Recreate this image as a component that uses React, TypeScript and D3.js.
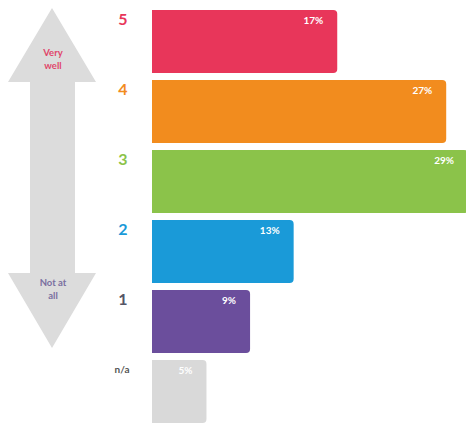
import React from "react";
import * as d3 from "d3";

const categories = ["5", "4", "3", "2", "1", "n/a"];
const values = [17, 27, 29, 13, 9, 5];
const valueLabels = ["17%", "27%", "29%", "13%", "9%", "5%"];
const barColors = ["#e8365a", "#f28c1e", "#8bc34a", "#1a9ad8", "#6b4e9c", "#d9d9d9"];
const labelColors = ["#e8365a", "#f28c1e", "#8bc34a", "#1a9ad8", "#555566", "#555555"];
const topLabel = ["Very", "well"];
const bottomLabel = ["Not at", "all"];

const W = 466;
const H = 423;

export default function App() {
  const x = d3.scaleLinear().domain([0, 29]).range([152, 468]);
  const y = d3.scaleBand().domain(categories).range([10, 423]).paddingInner(0.1).paddingOuter(0);
  const r = 4;
  const barPath = (x0: number, x1: number, y0: number, h: number) => {
    const p = d3.path();
    p.moveTo(x0, y0);
    p.lineTo(x1 - r, y0);
    p.arcTo(x1, y0, x1, y0 + r, r);
    p.lineTo(x1, y0 + h - r);
    p.arcTo(x1, y0 + h, x1 - r, y0 + h, r);
    p.lineTo(x0, y0 + h);
    p.closePath();
    return p.toString();
  };
  const arrow = d3.path();
  arrow.moveTo(52, 8);
  arrow.lineTo(96, 82);
  arrow.lineTo(75, 82);
  arrow.lineTo(75, 273);
  arrow.lineTo(96, 273);
  arrow.lineTo(52, 348);
  arrow.lineTo(8, 273);
  arrow.lineTo(30, 273);
  arrow.lineTo(30, 82);
  arrow.lineTo(8, 82);
  arrow.closePath();
  return (
    <svg width={W} height={H} style={{ position: "absolute", left: 0, top: 0, background: "#fff" }}
      fontFamily="Lato, 'Open Sans', sans-serif">
      <path d={arrow.toString()} fill="#dcdcdc" />
      {topLabel.map((t, i) => (
        <text key={t} x={53} y={56 + i * 13} textAnchor="middle" fontSize={9.5} fontWeight="bold" fill="#e0456a">{t}</text>
      ))}
      {bottomLabel.map((t, i) => (
        <text key={t} x={53} y={286 + i * 13} textAnchor="middle" fontSize={9.5} fontWeight="bold" fill="#7a6fa0">{t}</text>
      ))}
      {categories.map((c, i) => {
        const y0 = y(c)!;
        const h = y.bandwidth();
        return (
          <g key={c}>
            <path d={barPath(x(0), x(values[i]), y0, h)} fill={barColors[i]} />
            <text x={x(values[i]) - 14} y={y0 + 14} textAnchor="end" fontSize={10} fontWeight="bold" fill="#fff">{valueLabels[i]}</text>
            <text x={c === "n/a" ? 122 : 123} y={y0 + (c === "n/a" ? 13 : 15)} textAnchor="middle"
              fontSize={c === "n/a" ? 10 : 16} fontWeight="bold" fill={labelColors[i]}>{c}</text>
          </g>
        );
      })}
    </svg>
  );
}
